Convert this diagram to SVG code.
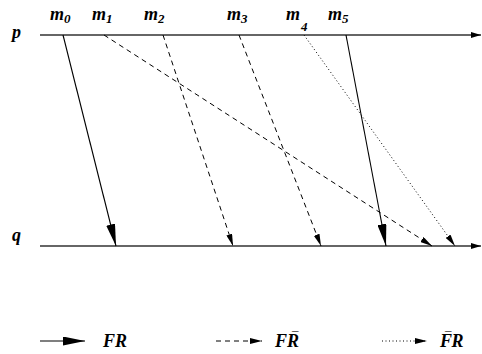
<svg xmlns="http://www.w3.org/2000/svg" width="482" height="354" viewBox="0 0 482 354">
<style>
text{font-family:"Liberation Serif","Times New Roman",serif;font-style:italic;font-weight:bold;fill:#000}
.lbl{font-size:18px}
.sub{font-size:13px}
.mac{font-size:13px}
.axis{stroke:#333;stroke-width:1.4;fill:none}
.solid{stroke:#000;stroke-width:1.1;fill:none}
.dash{stroke:#000;stroke-width:1;stroke-dasharray:5,4;fill:none}
.dot{stroke:#000;stroke-width:1;stroke-dasharray:1,2.5;fill:none}
</style>
<defs>
<marker id="big" viewBox="0 0 22 9" refX="22" refY="4.5" markerWidth="22" markerHeight="9" markerUnits="userSpaceOnUse" orient="auto"><path d="M0,0L22,4.5L0,9z" fill="#000"/></marker>
<marker id="small" viewBox="0 0 12 6" refX="12" refY="3" markerWidth="12" markerHeight="6" markerUnits="userSpaceOnUse" orient="auto"><path d="M0,0L12,3L0,6z" fill="#000"/></marker>
<marker id="ax" viewBox="0 0 10 6" refX="10" refY="3" markerWidth="10" markerHeight="6" markerUnits="userSpaceOnUse" orient="auto"><path d="M0,0L10,3L0,6z" fill="#000"/></marker>
</defs>
<g id="p"><line class="axis" x1="40" y1="35" x2="481" y2="35" marker-end="url(#ax)"/><text class="lbl" x="12" y="38">p</text></g>
<g id="q"><line class="axis" x1="40" y1="246" x2="481" y2="246" marker-end="url(#ax)"/><text class="lbl" x="12" y="241">q</text></g>
<g id="labels">
<text class="lbl" x="50" y="20">m<tspan class="sub" dy="3">0</tspan></text>
<text class="lbl" x="92" y="20">m<tspan class="sub" dy="3">1</tspan></text>
<text class="lbl" x="144" y="20">m<tspan class="sub" dy="3">2</tspan></text>
<text class="lbl" x="227" y="20">m<tspan class="sub" dy="3">3</tspan></text>
<text class="lbl" x="286" y="20">m<tspan class="sub" dx="1" dy="11">4</tspan></text>
<text class="lbl" x="328" y="20">m<tspan class="sub" dy="3">5</tspan></text>
</g>
<g id="connectors">
<line class="solid" x1="63" y1="35" x2="116" y2="246" marker-end="url(#big)"/>
<line class="dash" x1="104" y1="35" x2="432" y2="246" marker-end="url(#small)"/>
<line class="dash" x1="163" y1="35" x2="233" y2="246" marker-end="url(#small)"/>
<line class="dash" x1="239" y1="35" x2="321" y2="246" marker-end="url(#small)"/>
<line class="dot" x1="304" y1="35" x2="455" y2="246" marker-end="url(#small)"/>
<line class="solid" x1="346" y1="35" x2="386" y2="246" marker-end="url(#big)"/>
</g>
<g id="legend">
<line class="solid" x1="40" y1="341" x2="85" y2="341" marker-end="url(#big)"/>
<text class="lbl" x="103" y="347">FR</text>
<line class="dash" x1="216" y1="341" x2="262" y2="341" marker-end="url(#small)"/>
<text class="lbl" x="275" y="347">FR<tspan class="mac" dx="-8" dy="-6">¯</tspan></text>
<line class="dot" x1="382" y1="341" x2="427" y2="341" marker-end="url(#small)"/>
<text class="lbl" x="440" y="347">F<tspan class="mac" dx="-8" dy="-6">¯</tspan><tspan dx="1" dy="6">R</tspan></text>
</g>
</svg>
